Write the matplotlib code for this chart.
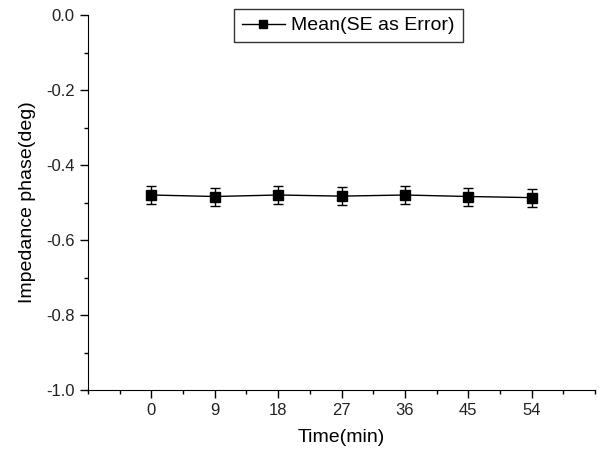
import matplotlib
matplotlib.use('Agg')
from matplotlib import pyplot as plt
from matplotlib.ticker import MultipleLocator
from matplotlib.lines import Line2D

plt.rcParams['font.family'] = ['Liberation Sans', 'DejaVu Sans']

time_min = [0, 9, 18, 27, 36, 45, 54]
phase_mean = [-0.480, -0.484, -0.480, -0.483, -0.480, -0.484, -0.487]
phase_se = [0.024, 0.024, 0.024, 0.024, 0.024, 0.024, 0.024]


def main():
    fig = plt.figure(figsize=(6.01, 4.55), dpi=100)
    ax = fig.add_axes([88 / 601, 1 - 390 / 455, (595 - 88) / 601, (390 - 15) / 455])

    ax.errorbar(time_min, phase_mean, yerr=phase_se, color='black', lw=1.0,
                marker='s', ms=7, elinewidth=1.0, capsize=3.5, capthick=1.0)

    ax.set_xlim(-9, 63)
    ax.set_ylim(-1.0, 0.0)
    ax.set_xticks(time_min)
    ax.xaxis.set_minor_locator(MultipleLocator(4.5))
    ax.yaxis.set_major_locator(MultipleLocator(0.2))
    ax.yaxis.set_minor_locator(MultipleLocator(0.1))
    ax.yaxis.set_major_formatter(plt.FuncFormatter(lambda v, p: '%.1f' % v))

    for side in ['top', 'right']:
        ax.spines[side].set_visible(False)
    ax.tick_params(which='major', direction='out', length=6, width=1, labelsize=12,
                   labelcolor='#222222')
    ax.tick_params(which='minor', direction='out', length=3, width=1)

    ax.set_xlabel('Time(min)', fontsize=14, labelpad=8)
    ax.set_ylabel('Impedance phase(deg)', fontsize=14, labelpad=7)

    # legend shows just line + marker, like Origin does
    handle = Line2D([], [], color='black', lw=1.0, marker='s', ms=6)
    leg = ax.legend([handle], ['Mean(SE as Error)'], loc='upper left',
                    bbox_to_anchor=(234 / 601, 1 - 9 / 455),
                    bbox_transform=fig.transFigure, fontsize=14, frameon=True,
                    fancybox=False, edgecolor='black', handlelength=2.2,
                    borderpad=0.4, handletextpad=0.35, borderaxespad=0)
    leg.get_frame().set_linewidth(1.0)

    plt.savefig('out.png', dpi=100)


if __name__ == "__main__":
    main()
